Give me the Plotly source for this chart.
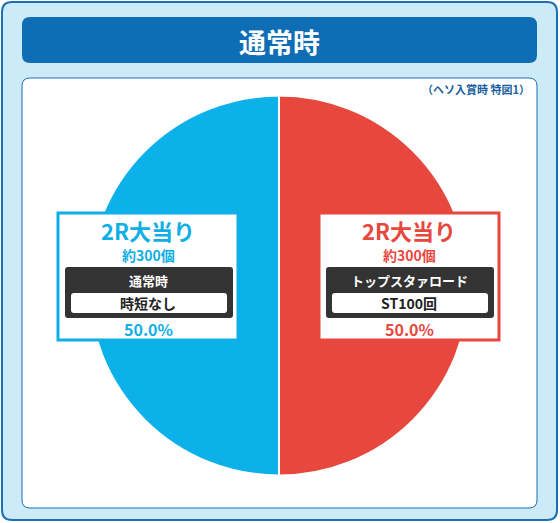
import plotly.graph_objects as go

labels = ["2R大当り(トップスタァロード)", "2R大当り(通常時)"]
values = [50.0, 50.0]
colors = ["#e8473e", "#0cb1e9"]
title = "通常時"
note = "（ヘソ入賞時 特図1）"
box_texts = [
    {"cx": 148, "col": "#10aee6", "head": "2R大当り", "sub": "約300個", "mode": "通常時", "detail": "時短なし", "pct": "50.0%"},
    {"cx": 409, "col": "#e8473e", "head": "2R大当り", "sub": "約300個", "mode": "トップスタァロード", "detail": "ST100回", "pct": "50.0%"},
]
W, H = 560, 523
F = "Noto Sans CJK JP"

def rr(x0, y0, x1, y1, r):
    return (f"M{x0+r},{y0} L{x1-r},{y0} Q{x1},{y0} {x1},{y0+r} L{x1},{y1-r} Q{x1},{y1} {x1-r},{y1} "
            f"L{x0+r},{y1} Q{x0},{y1} {x0},{y1-r} L{x0},{y0+r} Q{x0},{y0} {x0+r},{y0} Z")

fig = go.Figure()
fig.add_trace(go.Pie(labels=labels, values=values, sort=False, direction="clockwise", rotation=0,
                     marker=dict(colors=colors, line=dict(color="white", width=2)),
                     textinfo="none", hoverinfo="label+percent", showlegend=False,
                     domain=dict(x=[89/W, 469/W], y=[1-476/H, 1-95/H])))
shapes = [
    dict(type="path", path=rr(2, 2, 557, 520, 10), fillcolor="#cdeaf8", line=dict(color="#1b6fb5", width=2), layer="below"),
    dict(type="path", path=rr(22, 17, 537, 63, 8), fillcolor="#0f6db5", line=dict(width=0), layer="below"),
    dict(type="path", path=rr(22, 78, 537, 508, 8), fillcolor="white", line=dict(color="#1b6fb5", width=1), layer="below"),
]
ann = [
    dict(x=279, y=41, text=f"<b>{title}</b>", font=dict(size=27, color="white", family=F), showarrow=False),
    dict(x=532, y=89, text=f"<b>{note}</b>", xanchor="right", font=dict(size=11, color="#1b5f9e", family=F), showarrow=False),
]
for b in box_texts:
    cx, c = b["cx"], b["col"]
    shapes += [
        dict(type="rect", x0=cx-90, x1=cx+90, y0=213, y1=340, fillcolor="white", line=dict(color=c, width=3), layer="above"),
        dict(type="path", path=rr(cx-83, 267, cx+85, 318, 3), fillcolor="#333333", line=dict(width=0), layer="above"),
        dict(type="path", path=rr(cx-77, 293, cx+79, 313, 3), fillcolor="white", line=dict(width=0), layer="above"),
    ]
    ann += [
        dict(x=cx, y=230, text=f"<b>{b['head']}</b>", font=dict(size=22, color=c, family=F), showarrow=False),
        dict(x=cx, y=255, text=f"<b>{b['sub']}</b>", font=dict(size=14, color=c, family=F), showarrow=False),
        dict(x=cx, y=280, text=f"<b>{b['mode']}</b>", font=dict(size=13, color="white", family=F), showarrow=False),
        dict(x=cx, y=303, text=f"<b>{b['detail']}</b>", font=dict(size=14, color="#222222", family=F), showarrow=False),
        dict(x=cx, y=329, text=f"<b>{b['pct']}</b>", font=dict(size=16, color=c, family=F), showarrow=False),
    ]
for a in ann:
    a.update(xref="x", yref="y")
for s in shapes:
    s.update(xref="x", yref="y")
fig.update_layout(width=W, height=H, margin=dict(l=0, r=0, t=0, b=0), paper_bgcolor="white", plot_bgcolor="rgba(0,0,0,0)",
                  xaxis=dict(range=[0, W], visible=False, fixedrange=True),
                  yaxis=dict(range=[H, 0], visible=False, fixedrange=True),
                  shapes=shapes, annotations=ann)
fig.write_html("out.html", config={"displayModeBar": False},
               post_script="document.body.style.margin='0';document.body.style.overflow='hidden';")
